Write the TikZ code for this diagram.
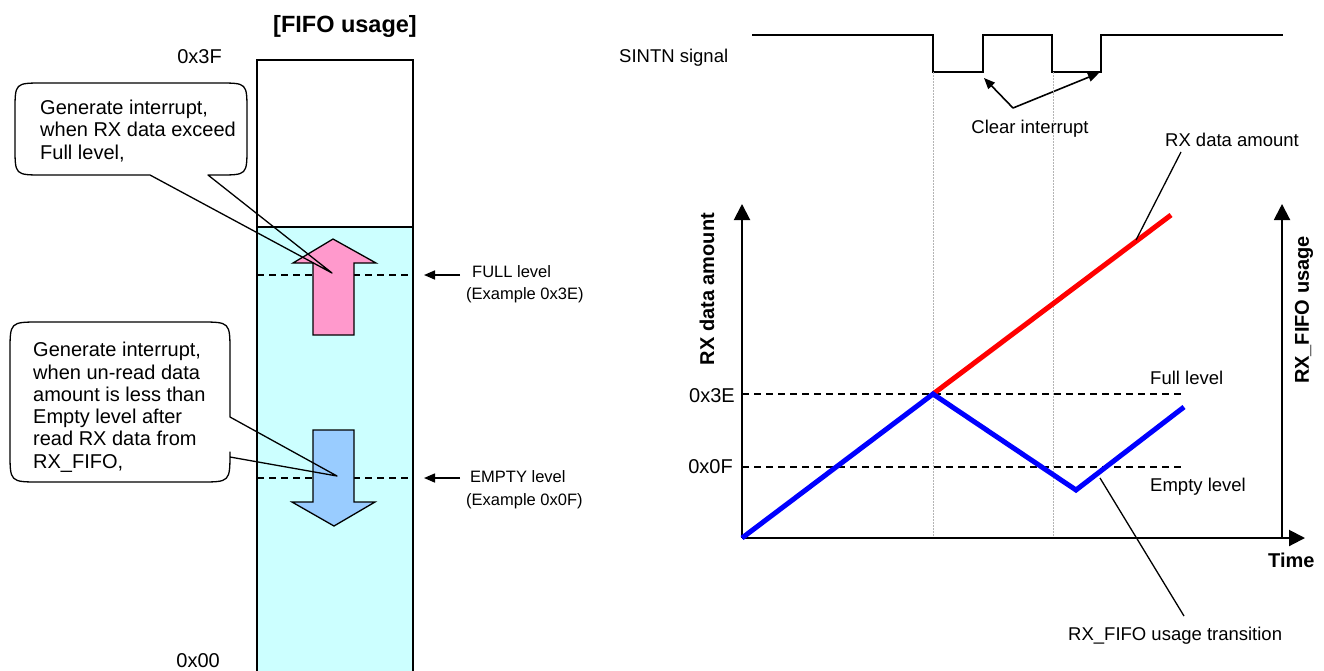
\documentclass[tikz,border=0pt]{standalone}
\usepackage{fontspec}
\setmainfont{Liberation Sans}
\usetikzlibrary{arrows.meta}
\definecolor{fifocyan}{HTML}{CCFFFF}
\definecolor{uppink}{HTML}{FF99CC}
\definecolor{downblue}{HTML}{99CCFF}
\definecolor{guidegray}{HTML}{B4B4B4}
\begin{document}
\begin{tikzpicture}[x=1pt,y=-1pt,
  calltext/.style={font=\fontsize{20}{22.3}\selectfont, align=left, anchor=north west, inner sep=0pt},
  lbl/.style={font=\fontsize{18.5}{21}\selectfont, inner sep=0pt},
  lbll/.style={font=\fontsize{20}{22}\selectfont, inner sep=0pt},
  smalllbl/.style={font=\fontsize{16.5}{19}\selectfont, inner sep=0pt},
  boldlbl/.style={font=\bfseries\fontsize{20}{22}\selectfont, inner sep=0pt},
  callout/.style={draw=black, line width=1.3pt, line join=round},
  levelline/.style={dashed, dash pattern=on 7pt off 5pt, line width=1.4pt},
  guide/.style={draw=guidegray, line width=0.9pt, dash pattern=on 1.5pt off 1.5pt},
  axis/.style={line width=2pt, -{Triangle[length=16pt,width=16pt]}},
  leader/.style={line width=1.3pt},
  pointer/.style={line width=1.6pt, -{Triangle[length=11pt,width=9pt]}},
  curve/.style={line width=5pt, line cap=butt, line join=miter}
]
\useasboundingbox (0,0) rectangle (1324,670);

% ---------------- Left: FIFO usage ----------------
\node[boldlbl, font=\bfseries\fontsize{23.5}{26}\selectfont, anchor=base] (title) at (345,32) {[FIFO usage]};

\fill[fifocyan] (257,227) rectangle (413,672);
\draw[line width=2pt] (257,672) -- (257,60) -- (413,60) -- (413,672);
\draw[line width=2pt] (257,227) -- (413,227);
\node[lbll, anchor=base east] (top) at (222,63) {0x3F};
\node[lbll, anchor=base east] (bot) at (220,667) {0x00};

\coordinate (fullL) at (257,275);
\coordinate (fullR) at (413,275);
\coordinate (emptyL) at (257,478);
\coordinate (emptyR) at (413,478);
\draw[levelline] (fullL) -- (fullR);
\draw[levelline] (emptyL) -- (emptyR);

% pink up arrow
\draw[fill=uppink, line width=1.3pt, line join=miter]
  (313,335) -- (313,263) -- (293,263) -- (333,239) -- (376,263) -- (354,263) -- (354,335) -- cycle;
% blue down arrow
\draw[fill=downblue, line width=1.3pt, line join=miter]
  (313,430) -- (354,430) -- (354,502) -- (375,502) -- (334,526) -- (292,502) -- (313,502) -- cycle;

% level labels
\node[smalllbl, anchor=base west] (fulltxt) at (472,277) {FULL level};
\node[smalllbl, anchor=base west] (fullex) at (466,299) {(Example 0x3E)};
\node[smalllbl, anchor=base west] (emptytxt) at (470,482) {EMPTY level};
\node[smalllbl, anchor=base west] (emptyex) at (466,505) {(Example 0x0F)};
\coordinate (fa0) at (460,275);
\coordinate (fa1) at (424,275);
\coordinate (ea0) at (460,478);
\coordinate (ea1) at (424,478);
\draw[pointer] (fa0) -- (fa1);
\draw[pointer] (ea0) -- (ea1);

% callout 1
\draw[callout]
  (43,83) -- (219,83) .. controls (247,83) .. (247,111) -- (247,147)
  .. controls (247,175) .. (219,175) -- (208,175) -- (332,273) -- (150,175)
  -- (43,175) .. controls (15,175) .. (15,147) -- (15,111) .. controls (15,83) .. (43,83) -- cycle;
\node[calltext] (c1) at (40,100) {Generate interrupt,\\when RX data exceed\\Full level,};

% callout 2
\draw[callout]
  (40,322) -- (200,322) .. controls (230,322) .. (230,352) -- (230,417)
  -- (337,476) -- (230,457) -- (230,452)
  .. controls (230,482) .. (200,482) -- (40,482) .. controls (10,482) .. (10,452)
  -- (10,352) .. controls (10,322) .. (40,322) -- cycle;
\node[calltext] (c2) at (33,342) {Generate interrupt,\\when un-read data\\amount is less than\\Empty level after\\read RX data from\\RX\_FIFO,};

% ---------------- Right: timing ----------------
\node[lbl, anchor=base west] (sintn) at (619,62) {SINTN signal};
\draw[line width=2pt, line join=miter]
  (752,35) -- (933,35) -- (933,72) -- (983,72) -- (983,35) -- (1052,35)
  -- (1052,72) -- (1101,72) -- (1101,35) -- (1283,35);

\node[lbl, anchor=base] (clr) at (1030,133) {Clear interrupt};
\coordinate (clrA) at (1013,108);
\draw[pointer] (clrA) -- (984,78);
\draw[pointer] (clrA) -- (1099,73);

% guides
\draw[guide] (933,72) -- (933,538);
\draw[guide] (1053,72) -- (1053,538);

% axes
\coordinate (O) at (742,538);
\draw[axis] (O) -- (742,204);
\draw[axis] (1282,538) -- (1282,204);
\draw[axis] (O) -- (1305,538);
\node[boldlbl, rotate=90] (yl) at (707,289) {RX data amount};
\node[boldlbl, rotate=90] (yr) at (1304,310) {RX\_FIFO usage};
\node[boldlbl, anchor=base west] (time) at (1268,567) {Time};

% levels
\draw[levelline] (742,394) -- (1185,394);
\draw[levelline] (742,467) -- (1185,467);
\node[lbll, anchor=base east] (l3e) at (735,402) {0x3E};
\node[lbll, anchor=base east] (l0f) at (733,473) {0x0F};
\node[lbl, anchor=base west] (fulll) at (1150,384) {Full level};
\node[lbl, anchor=base west] (emptyl) at (1150,491) {Empty level};

% curves
\coordinate (peak) at (933,394);
\draw[curve, red] (peak) -- (1171,215);
\draw[curve, blue] (O) -- (peak) -- (1076,490) -- (1184,407);

% leaders
\node[lbl, anchor=base] (rxamt) at (1232,146) {RX data amount};
\draw[leader] (1136,240) -- (1181,152);
\node[lbl, anchor=base west] (trans) at (1068,640) {RX\_FIFO usage transition};
\draw[leader] (1100,478) -- (1184,616);
\end{tikzpicture}
\end{document}
